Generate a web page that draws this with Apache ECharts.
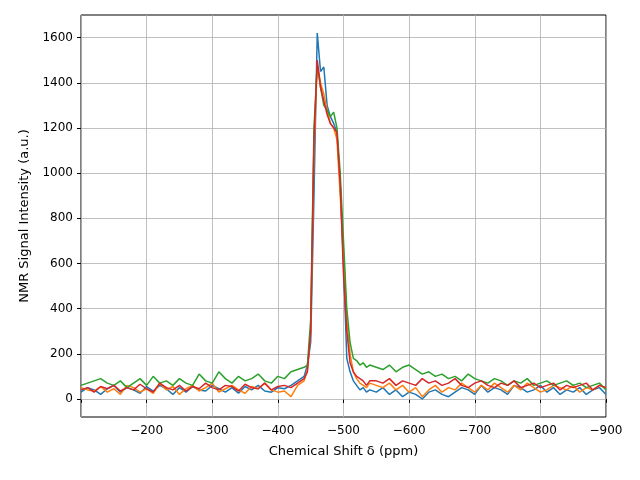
<!DOCTYPE html>
<html><head><meta charset="utf-8">
<script src="https://cdn.jsdelivr.net/npm/echarts@6/dist/echarts.min.js"></script>
<style>html,body{margin:0;background:#fff}#c{width:640px;height:480px}</style>
</head><body><div id="c"></div>
<script>
// chemical shift grid (ppm): coarse baseline, finer across the peak
var shift = [];
for (var s = -100; s >= -440; s -= 10) shift.push(s);
for (var s = -445; s >= -540; s -= 5) shift.push(s);
for (var s = -550; s >= -900; s -= 10) shift.push(s);

var blue = [30,50,40,20,45,60,30,50,40,25,55,35,60,45,20,50,30,55,40,35,60,45,30,50,25,55,40,60,35,30,50,45,60,80,100,
  150,250,900,1620,1450,1470,1300,1250,1220,1180,950,600,180,120,80,60,40,50,30,40,
  30,50,20,40,10,30,20,0,30,40,20,10,30,50,40,20,60,30,50,40,20,60,50,30,40,60,30,50,20,40,30,50,20,40,50,20];
var orange = [50,40,35,55,30,45,20,60,50,30,45,25,70,40,55,20,45,60,35,50,70,30,45,60,40,25,55,45,70,40,30,35,10,60,80,
  130,300,1100,1480,1400,1350,1280,1220,1200,1150,900,650,350,200,120,90,70,60,50,70,
  60,50,70,40,60,30,50,10,40,60,30,50,40,70,50,30,60,40,70,50,30,60,40,70,50,30,40,60,50,40,60,30,50,40,60,50];
var green = [60,70,80,90,70,60,80,50,70,90,60,100,70,80,60,90,70,60,110,80,70,120,90,70,100,80,90,110,80,70,100,90,120,130,140,
  150,350,1200,1480,1380,1300,1280,1250,1270,1200,1000,700,400,250,180,170,150,160,140,150,
  140,130,150,120,140,150,130,110,120,100,110,90,100,80,110,90,80,70,90,80,60,80,70,90,60,70,80,60,70,80,60,70,50,60,70,40];
var red = [40,50,30,55,45,60,35,50,40,65,45,30,70,50,40,60,35,55,45,70,50,40,60,55,35,65,50,45,70,40,55,60,50,70,90,
  120,300,1150,1500,1380,1320,1260,1220,1200,1180,950,550,300,160,120,100,90,80,60,80,
  80,70,90,60,80,70,60,90,70,80,60,70,90,60,50,70,80,60,50,70,60,80,50,60,70,50,60,70,40,60,50,60,70,40,60,50];

var yTicks = [0,200,400,600,800,1000,1200,1400,1600];
var colors = ['#1f77b4','#ff7f0e','#2ca02c','#d62728'];

function pairs(ys) { return ys.map(function (v, i) { return [shift[i], v]; }); }
function minus(v) { return String(v).replace('-', '\u2212'); }

var chart = echarts.init(document.getElementById('c'));
var series = [blue, orange, green, red].map(function (ys, i) {
  return { type: 'line', data: pairs(ys), showSymbol: false, lineStyle: { width: 1.5, color: colors[i] }, z: 3 + i };
});
// horizontal grid lines at the tick values
series[0].markLine = { silent: true, symbol: 'none', label: { show: false }, z: 1,
  lineStyle: { color: '#b0b0b0', type: 'solid', width: 0.8 },
  data: yTicks.map(function (v) { return { yAxis: v }; }) };

chart.setOption({
  animation: false,
  grid: { left: 81, right: 34, top: 15, bottom: 63, show: true, borderColor: '#000', borderWidth: 1 },
  xAxis: {
    type: 'value', inverse: true, min: -900, max: -100, interval: 100,
    name: 'Chemical Shift \u03b4 (ppm)', nameLocation: 'middle', nameGap: 28,
    nameTextStyle: { fontFamily: 'DejaVu Sans', fontSize: 13, color: '#000' },
    axisLine: { show: false },
    axisTick: { show: true, inside: false, length: 4, lineStyle: { color: '#000' } },
    axisLabel: { fontFamily: 'DejaVu Sans', fontSize: 12, color: '#000', margin: 8,
      formatter: function (v) { return v === -100 ? '' : minus(v); } },
    splitLine: { show: true, lineStyle: { color: '#b0b0b0', width: 0.8 } }
  },
  yAxis: {
    type: 'value', min: -80, max: 1700,
    name: 'NMR Signal Intensity (a.u.)', nameLocation: 'middle', nameGap: 50,
    nameTextStyle: { fontFamily: 'DejaVu Sans', fontSize: 13, color: '#000' },
    axisLine: { show: false },
    axisTick: { show: true, length: 4, customValues: yTicks, lineStyle: { color: '#000' } },
    axisLabel: { fontFamily: 'DejaVu Sans', fontSize: 12, color: '#000', customValues: yTicks,
      formatter: function (v) { return String(v); } },
    splitLine: { show: false }
  },
  series: series
});
</script></body></html>
